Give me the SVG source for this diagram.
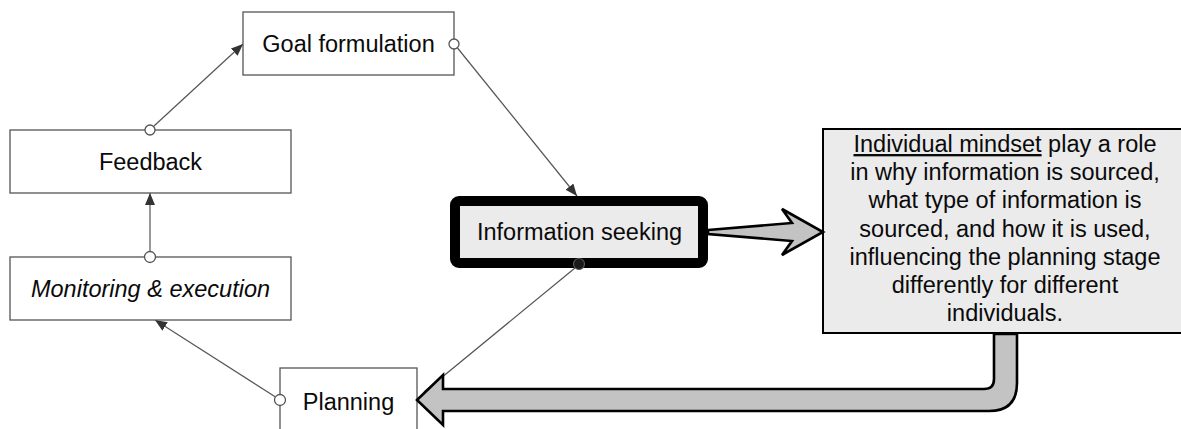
<svg xmlns="http://www.w3.org/2000/svg" width="1181" height="429" viewBox="0 0 1181 429">
<defs>
<marker id="tri" markerUnits="userSpaceOnUse" markerWidth="14" markerHeight="12" refX="12" refY="5" orient="auto">
<path d="M0,0 L12,5 L0,10 z" fill="#333"/>
</marker>
<style>
.box{fill:#fff;stroke:#555;stroke-width:1.3}
.t{font-family:"Liberation Sans",Arial,sans-serif;font-size:23.5px;fill:#0a0a0a;text-anchor:middle}
.c{stroke:#555;stroke-width:1.2;fill:none}
.o{fill:#fff;stroke:#555;stroke-width:1.3}
.big{fill:#c3c3c3;stroke:#000;stroke-width:2.6;stroke-linejoin:miter}
</style>
</defs>
<rect width="1181" height="429" fill="#fff"/>
<g id="connectors">
<line class="c" x1="457.5" y1="48" x2="577" y2="196" marker-end="url(#tri)"/>
<line class="c" x1="575" y1="268" x2="424" y2="392"/>
<line class="c" x1="275.5" y1="397" x2="155" y2="320" marker-end="url(#tri)"/>
<line class="c" x1="150" y1="251.5" x2="150" y2="193" marker-end="url(#tri)"/>
<line class="c" x1="154" y1="126" x2="243" y2="44" marker-end="url(#tri)"/>
</g>
<g id="goal">
<rect class="box" x="243" y="12" width="211" height="63"/>
<text class="t" x="348.5" y="52">Goal formulation</text>
</g>
<g id="feedback">
<rect class="box" x="10" y="130" width="281" height="63"/>
<text class="t" x="150.5" y="170">Feedback</text>
</g>
<g id="monitoring">
<rect class="box" x="10" y="257" width="281" height="63"/>
<text class="t" x="150.5" y="297" font-style="italic">Monitoring &amp; execution</text>
</g>
<g id="planning">
<rect class="box" x="280" y="368" width="137" height="72"/>
<text class="t" x="348.5" y="410">Planning</text>
</g>
<g id="info">
<rect x="455" y="201" width="248" height="62" rx="4" fill="#ebebeb" stroke="#000" stroke-width="10"/>
<text class="t" x="579.5" y="240">Information seeking</text>
</g>
<g id="mindset">
<rect x="823" y="129" width="360" height="204" fill="#ebebeb" stroke="#000" stroke-width="2"/>
<text class="t"><tspan x="1005" y="152"><tspan text-decoration="underline">Individual mindset</tspan> play a role</tspan><tspan x="1005" y="180">in why information is sourced,</tspan><tspan x="1005" y="208">what type of information is</tspan><tspan x="1005" y="236.5">sourced, and how it is used,</tspan><tspan x="1005" y="265">influencing the planning stage</tspan><tspan x="1005" y="293">differently for different</tspan><tspan x="1005" y="321">individuals.</tspan></text>
</g>
<g id="big-arrows">
<path class="big" d="M708,230 L792,223 L782,209 L823,232 L782,255 L792,241 L708,234 Z"/>
<path class="big" d="M417,400 L443,375 L443,389 L984,389 Q994,389 994,379 L994,334 L1017,334 L1017,383 Q1017,411 989,411 L443,411 L443,425 Z"/>
</g>
<g id="ports">
<circle class="o" cx="454" cy="44" r="5"/>
<circle cx="579" cy="264" r="5.5" fill="#1a1a1a" stroke="#555" stroke-width="1.2"/>
<circle class="o" cx="280" cy="400" r="5.5"/>
<circle class="o" cx="150" cy="257" r="5.5"/>
<circle class="o" cx="150" cy="130" r="5"/>
</g>
</svg>
